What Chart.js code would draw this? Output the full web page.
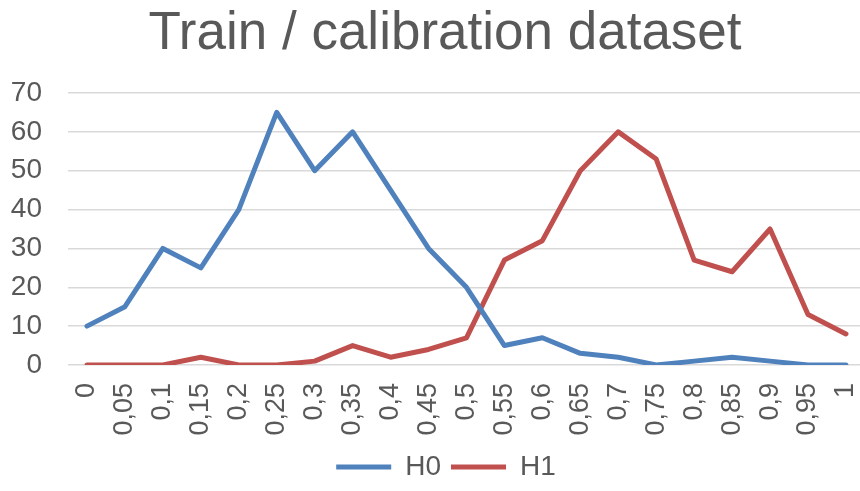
<!DOCTYPE html>
<html>
<head>
<meta charset="utf-8">
<script src="https://cdn.jsdelivr.net/npm/chart.js@4/dist/chart.umd.min.js"></script>
<style>
  html, body { margin: 0; padding: 0; background: #fff; }
  #wrap { width: 860px; height: 491px; position: relative; }
  #title {
    margin: 0; height: 61px; line-height: 61px;
    font: 53px "Liberation Sans", Arial, sans-serif;
    color: #595959; text-align: center; padding-left: 30px; box-sizing: border-box;
    white-space: nowrap;
  }
  #box { width: 860px; height: 430px; position: relative; }
</style>
</head>
<body>
<div id="wrap">
  <div id="title">Train / calibration dataset</div>
  <div id="box"><canvas id="c"></canvas></div>
</div>
<script>
// Score bins along the x axis
const categories = ['0','0,05','0,1','0,15','0,2','0,25','0,3','0,35','0,4','0,45','0,5',
                    '0,55','0,6','0,65','0,7','0,75','0,8','0,85','0,9','0,95','1'];
// Counts per bin for each hypothesis
const h0 = [10, 15, 30, 25, 40, 65, 50, 60, 45, 30, 20, 5, 7, 3, 2, 0, 1, 2, 1, 0, 0];
const h1 = [0, 0, 0, 2, 0, 0, 1, 5, 2, 4, 7, 27, 32, 50, 60, 53, 27, 24, 35, 13, 8];
// Y axis ticks
const yTicks = [0, 10, 20, 30, 40, 50, 60, 70];

const textColor = '#595959';
const fontFamily = '"Liberation Sans", Arial, sans-serif';

const toPoints = arr => arr.map((v, i) => ({ x: i, y: v }));

// Nudge the legend row so it sits under the plot's centre
const legendShift = {
  id: 'legendShift',
  afterLayout(chart) {
    if (chart.legend) { chart.legend.left += 11; chart.legend.right += 11; }
  }
};

new Chart(document.getElementById('c'), {
  type: 'line',
  data: {
    datasets: [
      { label: 'H0', data: toPoints(h0), borderColor: '#4f81bd', backgroundColor: '#4f81bd',
        borderWidth: 5, pointRadius: 0, tension: 0, borderCapStyle: 'round', borderJoinStyle: 'round' },
      { label: 'H1', data: toPoints(h1), borderColor: '#c0504d', backgroundColor: '#c0504d',
        borderWidth: 5, pointRadius: 0, tension: 0, borderCapStyle: 'round', borderJoinStyle: 'round' }
    ]
  },
  plugins: [legendShift],
  options: {
    responsive: true,
    maintainAspectRatio: false,
    animation: false,
    layout: { padding: { left: 10, right: 0, top: 32, bottom: 0 } },
    plugins: {
      title: { display: false },
      tooltip: { enabled: false },
      legend: {
        position: 'bottom',
        labels: {
          boxWidth: 55, boxHeight: 5, padding: 10,
          color: textColor,
          font: { family: fontFamily, size: 28 },
          generateLabels: chart => Chart.defaults.plugins.legend.labels.generateLabels(chart)
            .map(item => Object.assign(item, { lineWidth: 0, fillStyle: item.strokeStyle }))
        }
      }
    },
    scales: {
      x: {
        type: 'linear',
        min: -0.5,
        max: 20.37,
        afterBuildTicks: scale => { scale.ticks = categories.map((_, i) => ({ value: i })); },
        afterFit: scale => { scale.paddingLeft = 0; scale.paddingRight = 0; scale.height = 78; },
        grid: { display: false, drawTicks: false },
        border: { display: false },
        ticks: {
          autoSkip: false, minRotation: 90, maxRotation: 90, padding: 18,
          color: textColor, font: { family: fontFamily, size: 27 },
          callback: v => categories[v]
        }
      },
      y: {
        min: 0, max: 70,
        afterBuildTicks: scale => { scale.ticks = yTicks.map(v => ({ value: v })); },
        afterFit: scale => { scale.width = 58; scale.paddingTop = 0; scale.paddingBottom = 0; },
        grid: { color: '#d9d9d9', lineWidth: 1.5, drawTicks: false },
        border: { display: false },
        ticks: {
          padding: 26, color: textColor, font: { family: fontFamily, size: 28 }
        }
      }
    }
  }
});
</script>
</body>
</html>
